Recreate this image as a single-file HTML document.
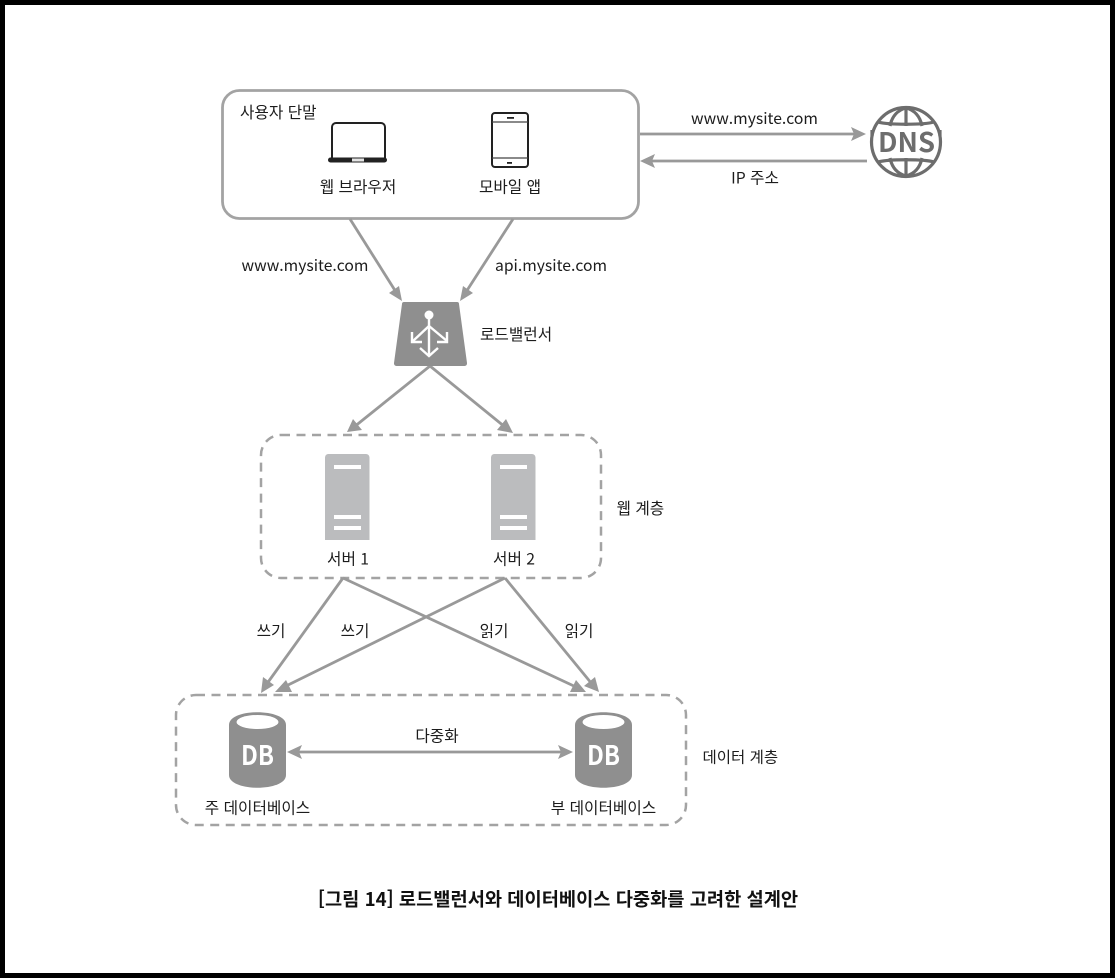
<!DOCTYPE html>
<html lang="ko">
<head>
<meta charset="utf-8">
<style>
html,body{margin:0;padding:0;background:#000;}
svg{display:block;}
text{font-family:"Noto Sans CJK KR","Liberation Sans",sans-serif;fill:#1c1c1c;font-size:15.7px;}
</style>
</head>
<body>
<svg width="1115" height="978" viewBox="0 0 1115 978" xmlns="http://www.w3.org/2000/svg">
<rect width="1115" height="978" fill="#000"/>
<rect x="5" y="5" width="1105" height="968" fill="#fff"/>

<!-- containers -->
<rect x="222.500" y="90.500" width="416" height="128" rx="17" fill="none" stroke="#a3a3a3" stroke-width="2.800"/>
<rect x="261" y="435" width="340" height="143" rx="20" fill="none" stroke="#a3a3a3" stroke-width="2.500" stroke-dasharray="9 6.500"/>
<rect x="176" y="695" width="510" height="130" rx="20" fill="none" stroke="#a3a3a3" stroke-width="2.500" stroke-dasharray="9 6.500"/>

<!-- connectors -->
<g stroke="#999" stroke-width="2.800" fill="none">
<line x1="640" y1="134" x2="856" y2="134"/>
<line x1="867" y1="161" x2="650" y2="161"/>
<line x1="350" y1="219" x2="396" y2="292"/>
<line x1="513" y1="219" x2="466" y2="292"/>
<line x1="430" y1="366" x2="354" y2="427"/>
<line x1="430" y1="366" x2="505" y2="427"/>
<line x1="343" y1="578" x2="266" y2="685"/>
<line x1="343" y1="578" x2="576" y2="687"/>
<line x1="505" y1="578" x2="284" y2="687"/>
<line x1="505" y1="578" x2="592" y2="684"/>
<line x1="296" y1="752" x2="564" y2="752"/>
</g>
<g fill="#999">
<polygon points="866,134 851,127 854,134 851,141"/>
<polygon points="640,161 655,154 652,161 655,168"/>
<polygon points="402,301 389,293 399,286"/>
<polygon points="460,301 463,286 473,293"/>
<polygon points="347,432 353,419 362,430"/>
<polygon points="513,433 497,430 506,419"/>
<polygon points="261,693 263,677 274,685"/>
<polygon points="275,692 286,680 292,692"/>
<polygon points="586,692 570,692 576,680"/>
<polygon points="599,692 584,686 595,677"/>
<polygon points="287,752 302,745 299,752 302,759"/>
<polygon points="573,752 558,745 561,752 558,759"/>
</g>

<!-- laptop -->
<path d="M332 158V127a4 4 0 0 1 4-4h45a4 4 0 0 1 4 4v31" fill="none" stroke="#222" stroke-width="2"/>
<rect x="328" y="157.500" width="59" height="5" rx="2.500" fill="#222"/>
<rect x="352" y="158.500" width="12" height="3" fill="#e4e4e4"/>

<!-- phone -->
<rect x="492" y="113" width="36" height="54" rx="3" fill="none" stroke="#222" stroke-width="2"/>
<line x1="492" y1="122" x2="528" y2="122" stroke="#444" stroke-width="1.200"/>
<line x1="492" y1="158" x2="528" y2="158" stroke="#444" stroke-width="1.200"/>
<rect x="507" y="117" width="7" height="1.800" fill="#222"/>
<rect x="507" y="162" width="5" height="1.800" fill="#222"/>

<!-- DNS -->
<g fill="none" stroke="#6d6d6d" stroke-width="3.200">
<circle cx="906" cy="142" r="34.500"/>
<path d="M906 108V126M906 158V176"/>
<path d="M890 126C892 116 898 110 906 108C914 110 920 116 922 126"/>
<path d="M890 158C892 168 898 174 906 176C914 174 920 168 922 158"/>
<path d="M878 122C888 125 924 125 934 122"/>
<path d="M878 162C888 159 924 159 934 162"/>
</g>
<rect x="876" y="129" width="60" height="26" fill="#fff"/>
<line x1="872" y1="130" x2="872" y2="154" stroke="#6d6d6d" stroke-width="3.200" stroke-dasharray="6 18" />
<line x1="940" y1="130" x2="940" y2="154" stroke="#6d6d6d" stroke-width="3.200" stroke-dasharray="6 18" />
<text x="906.500" y="152" text-anchor="middle" textLength="57" lengthAdjust="spacingAndGlyphs" style="font-size:27px;font-weight:700;fill:#6d6d6d;">DNS</text>

<!-- load balancer -->
<path d="M404 302H457a2 2 0 0 1 2 2L467 363a2.500 2.500 0 0 1-2.500 3H396.500a2.500 2.500 0 0 1-2.500-3L402 304a2 2 0 0 1 2-2Z" fill="#8f8f8f"/>
<g stroke="#fff" stroke-width="2.400" fill="none">
<circle cx="429" cy="315" r="4.500" fill="#fff" stroke="none"/>
<line x1="429" y1="318" x2="429" y2="355"/>
<line x1="429" y1="326" x2="413" y2="341"/>
<line x1="429" y1="326" x2="447" y2="341"/>
<path d="M420 348L429 356L438 348"/>
<path d="M412 332V342H422"/>
<path d="M447 332V342H437"/>
</g>

<!-- servers -->
<g fill="#bbbcbe">
<path d="M328 454H366a3.500 3.500 0 0 1 3.500 3.500V540H325V457.500a3.500 3.500 0 0 1 3-3.500Z"/>
<path d="M494 454H532a3.500 3.500 0 0 1 3.500 3.500V540H491V457.500a3.500 3.500 0 0 1 3-3.500Z"/>
</g>
<g fill="#fff">
<rect x="334" y="465" width="27" height="4"/><rect x="334" y="515" width="27" height="4"/><rect x="334" y="526" width="27" height="4"/>
<rect x="500" y="465" width="27" height="4"/><rect x="500" y="515" width="27" height="4"/><rect x="500" y="526" width="27" height="4"/>
</g>

<!-- databases -->
<g fill="#8f8f8f">
<path d="M229 725C229 708 286 708 286 725V775C286 792 229 792 229 775Z"/>
<path d="M575 725C575 708 632 708 632 725V775C632 792 575 792 575 775Z"/>
</g>
<ellipse cx="257.500" cy="722" rx="21" ry="7" fill="#fff"/>
<ellipse cx="603.500" cy="722" rx="21" ry="7" fill="#fff"/>
<text x="257.500" y="765" text-anchor="middle" textLength="33" lengthAdjust="spacingAndGlyphs" style="font-size:27px;font-weight:700;fill:#fff;">DB</text>
<text x="603.500" y="765" text-anchor="middle" textLength="33" lengthAdjust="spacingAndGlyphs" style="font-size:27px;font-weight:700;fill:#fff;">DB</text>

<!-- labels -->
<text x="240" y="118">사용자 단말</text>
<text x="358" y="192.500" text-anchor="middle">웹 브라우저</text>
<text x="510" y="192.500" text-anchor="middle">모바일 앱</text>
<text x="754.500" y="124" text-anchor="middle">www.mysite.com</text>
<text x="755" y="183.500" text-anchor="middle">IP 주소</text>
<text x="305" y="271" text-anchor="middle">www.mysite.com</text>
<text x="551" y="271" text-anchor="middle">api.mysite.com</text>
<text x="480" y="340">로드밸런서</text>
<text x="348" y="564.500" text-anchor="middle">서버 1</text>
<text x="514" y="564.500" text-anchor="middle">서버 2</text>
<text x="616.500" y="514">웹 계층</text>
<text x="271" y="636.500" text-anchor="middle">쓰기</text>
<text x="355" y="636.500" text-anchor="middle">쓰기</text>
<text x="494" y="636.500" text-anchor="middle">읽기</text>
<text x="579" y="636.500" text-anchor="middle">읽기</text>
<text x="437" y="741.500" text-anchor="middle">다중화</text>
<text x="257.500" y="813.500" text-anchor="middle">주 데이터베이스</text>
<text x="603.500" y="813.500" text-anchor="middle">부 데이터베이스</text>
<text x="702.500" y="762.500" style="font-size:15.5px">데이터 계층</text>
<text x="558" y="906" text-anchor="middle" style="font-size:18.7px;font-weight:700;fill:#111">[그림 14] 로드밸런서와 데이터베이스 다중화를 고려한 설계안</text>
</svg>
</body>
</html>
